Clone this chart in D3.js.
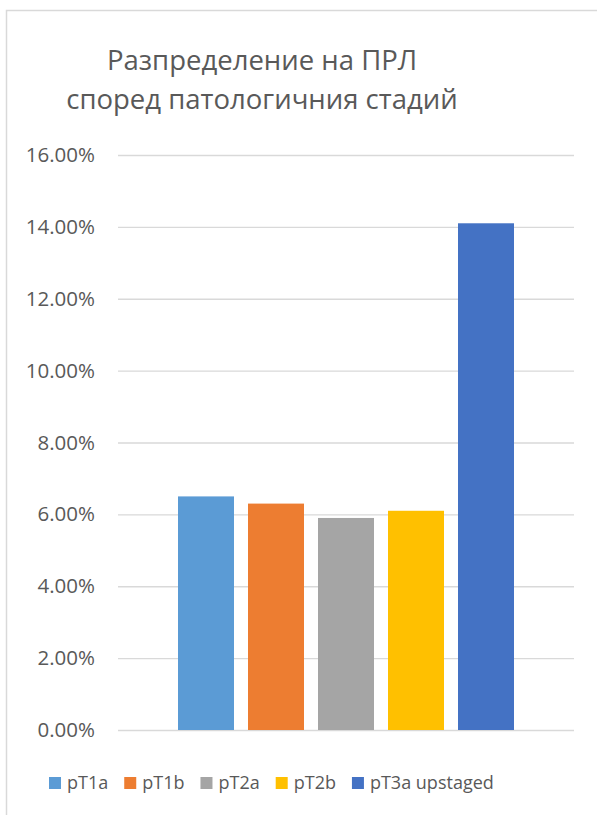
<!DOCTYPE html>
<html>
<head>
<meta charset="utf-8">
<script src="https://cdn.jsdelivr.net/npm/d3@7"></script>
<style>
  body { margin: 0; background: #fff; }
  svg text { font-family: "Open Sans", "Noto Sans", sans-serif; fill: #595959; }
</style>
</head>
<body>
<script>
// chart data
var titleLines = ["Разпределение на ПРЛ", "според патологичния стадий"];
var series = ["pT1a", "pT1b", "pT2a", "pT2b", "pT3a upstaged"];
var values = [0.065, 0.063, 0.059, 0.061, 0.141];
var colors = ["#5b9bd5", "#ed7d31", "#a5a5a5", "#ffc000", "#4472c4"];
var yTicks = [0, 0.02, 0.04, 0.06, 0.08, 0.10, 0.12, 0.14, 0.16];

var width = 597, height = 815;
var margin = {top: 155, right: 23, bottom: 85, left: 118};

var svg = d3.select("body").append("svg")
  .attr("width", width)
  .attr("height", height);

// chart border (only top and left visible in the frame)
svg.append("rect")
  .attr("x", 6.5).attr("y", 10.5)
  .attr("width", width + 20).attr("height", height + 20)
  .attr("fill", "none")
  .attr("stroke", "#d9d9d9")
  .attr("stroke-width", 1.5);

// title
svg.append("text")
  .attr("text-anchor", "middle")
  .attr("font-size", 27.5)
  .selectAll("tspan")
  .data(titleLines).enter()
  .append("tspan")
  .attr("x", 262)
  .attr("y", function(d, i) { return 70 + i * 39; })
  .text(function(d) { return d; });

var y = d3.scaleLinear()
  .domain([0, 0.16])
  .range([height - margin.bottom, margin.top]);

// one category, series clustered inside it
var x0 = d3.scaleBand()
  .domain(["all"])
  .range([margin.left, width - margin.right]);

var center = x0("all") + x0.bandwidth() / 2;
var x1 = d3.scaleBand()
  .domain(series)
  .range([center - 175, center + 175])
  .paddingInner(0.2)
  .paddingOuter(0.1);

// gridlines + tick labels
var yAxis = d3.axisLeft(y)
  .tickValues(yTicks)
  .tickSize(-(width - margin.left - margin.right))
  .tickPadding(23)
  .tickFormat(function(d) { return (d * 100).toFixed(2) + "%"; });

var gy = svg.append("g")
  .attr("transform", "translate(" + margin.left + ",0)")
  .call(yAxis);
gy.select(".domain").remove();
gy.selectAll(".tick line")
  .attr("stroke", "#d9d9d9")
  .attr("stroke-width", 1.3);
gy.selectAll(".tick text")
  .attr("font-size", 20.5)
  .attr("fill", "#595959")
  .attr("font-family", "Open Sans, Noto Sans, sans-serif");

// bars
svg.append("g").selectAll("rect")
  .data(series).enter()
  .append("rect")
  .attr("x", function(d) { return x1(d); })
  .attr("width", x1.bandwidth())
  .attr("y", function(d, i) { return y(values[i]); })
  .attr("height", function(d, i) { return y(0) - y(values[i]); })
  .attr("fill", function(d, i) { return colors[i]; });

// legend
var legend = svg.append("g").attr("transform", "translate(49,783)");
var lx = 0;
series.forEach(function(s, i) {
  var item = legend.append("g").attr("transform", "translate(" + lx + ",0)");
  item.append("rect")
    .attr("x", 0).attr("y", -6)
    .attr("width", 12).attr("height", 12)
    .attr("fill", colors[i]);
  var t = item.append("text")
    .attr("x", 18).attr("y", 0)
    .attr("dy", "0.35em")
    .attr("font-size", 18)
    .text(s);
  lx += 18 + t.node().getComputedTextLength() + 16;
});
</script>
</body>
</html>
